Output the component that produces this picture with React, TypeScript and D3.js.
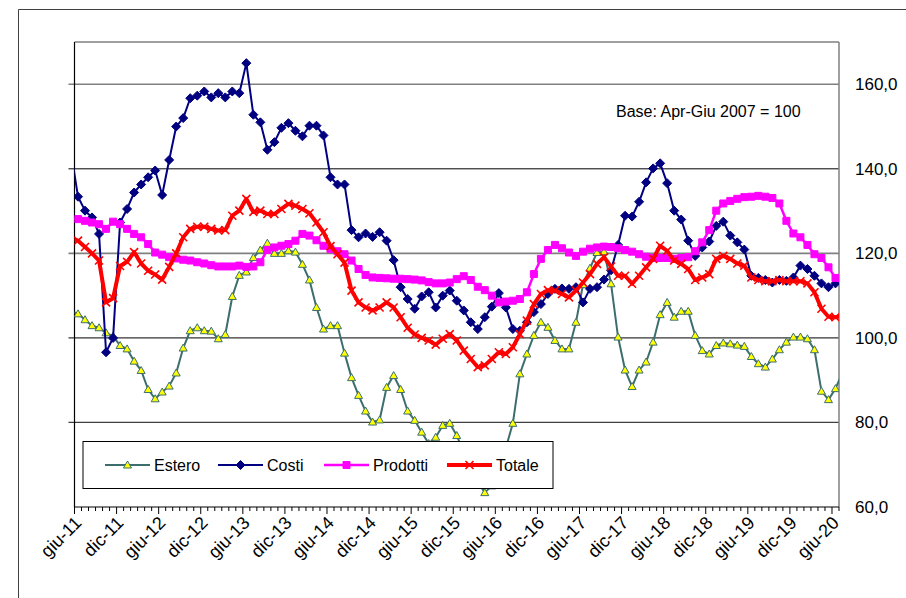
import React from "react";
import * as d3 from "d3";

// monthly values, first entry = mag-11 (partly outside the plot), last = lug-20
const estero = [
  106.3, 105.7, 104.3, 102.9, 102.4, 101.2, 100.4, 98.2, 97.4, 94.5, 92.3, 87.8,
  85.6, 87.2, 88.6, 91.7, 97.6, 101.7, 102.4, 101.7, 101.6, 99.8, 100.8, 109.8,
  114.8, 115.6, 119.0, 120.8, 122.4, 120.0, 120.0, 120.6, 120.3, 117.4, 113.7, 107.2,
  102.1, 102.9, 102.9, 96.4, 90.6, 86.4, 82.7, 80.1, 80.6, 88.3, 91.1, 87.8,
  82.7, 80.5, 77.7, 75.0, 76.5, 79.3, 79.8, 76.9, 73.0, 69.5, 66.0, 63.4,
  65.0, 69.0, 74.0, 79.8, 91.5, 96.2, 100.6, 103.7, 102.5, 99.4, 97.4, 97.4,
  103.7, 112.6, 116.5, 120.2, 120.4, 112.8, 100.2, 92.4, 88.5, 92.4, 94.3, 99.0,
  105.5, 108.4, 104.9, 106.3, 106.3, 100.6, 97.0, 96.2, 98.2, 98.8, 98.6, 98.3,
  98.0, 95.6, 93.9, 93.1, 95.0, 97.2, 99.0, 100.2, 100.2, 99.8, 97.2, 87.4,
  85.4, 88.0, 91.8,
];

const costi = [
  144.0, 133.4, 130.1, 128.5, 124.6, 96.6, 100.0, 127.3, 130.5, 134.4, 136.3, 138.0,
  139.6, 133.8, 142.1, 150.0, 152.0, 156.7, 157.3, 158.3, 156.9, 157.9, 156.9, 158.3,
  157.9, 165.0, 152.8, 151.0, 144.5, 146.3, 149.7, 150.8, 149.0, 147.7, 150.2, 150.2,
  147.9, 138.0, 136.3, 136.3, 125.5, 123.8, 124.7, 123.9, 125.0, 123.0, 118.4, 112.0,
  109.2, 106.9, 109.8, 110.8, 107.2, 110.0, 111.2, 108.8, 106.5, 103.7, 102.1, 104.9,
  107.4, 110.6, 107.2, 102.1, 101.7, 103.7, 106.1, 108.0, 110.4, 111.6, 111.7, 111.6,
  112.0, 108.4, 111.6, 112.0, 113.8, 116.0, 122.0, 128.9, 128.7, 132.2, 136.8, 140.1,
  141.3, 136.6, 130.1, 128.0, 123.0, 119.4, 121.4, 122.8, 126.5, 127.5, 124.2, 122.6,
  120.9, 114.7, 114.2, 113.7, 113.1, 113.7, 113.5, 114.3, 117.1, 116.3, 114.7, 112.9,
  112.0, 112.9, 113.2,
];

const prodotti = [
  128.3, 128.1, 127.7, 127.3, 126.9, 125.8, 127.5, 126.9, 125.8, 124.6, 123.8, 122.2,
  120.2, 119.7, 119.1, 118.8, 118.5, 118.3, 117.9, 117.6, 117.2, 116.9, 116.9, 116.9,
  117.1, 116.8, 116.9, 117.9, 120.8, 121.4, 121.8, 122.2, 123.0, 124.6, 124.2, 123.1,
  121.8, 121.0, 120.5, 119.8, 118.3, 116.3, 114.9, 114.3, 114.2, 114.1, 114.0, 114.0,
  113.9, 113.8, 113.6, 113.2, 112.9, 112.9, 113.1, 113.9, 114.6, 113.7, 112.1, 111.3,
  110.0, 108.4, 108.6, 108.8, 109.2, 110.8, 115.1, 118.7, 120.8, 122.0, 121.2, 120.2,
  119.4, 120.4, 121.1, 121.4, 121.6, 121.5, 121.2, 120.8, 120.4, 119.8, 119.2, 118.9,
  118.9, 118.9, 118.7, 118.9, 119.1, 120.5, 122.6, 125.5, 130.1, 131.8, 132.4, 132.9,
  133.3, 133.4, 133.6, 133.4, 133.1, 131.8, 127.7, 124.7, 123.8, 122.0, 119.8, 118.9,
  116.7, 114.2, 112.8,
];

const totale = [
  123.6, 123.0, 121.5, 120.0, 118.3, 108.4, 109.4, 117.0, 118.0, 120.3, 117.6, 115.9,
  115.0, 113.8, 116.8, 120.0, 123.8, 125.8, 126.3, 126.3, 125.8, 125.4, 125.5, 128.9,
  130.1, 132.9, 129.8, 130.1, 129.3, 129.3, 130.5, 131.7, 131.3, 130.5, 129.5, 127.3,
  125.0, 121.7, 119.8, 117.8, 111.2, 108.4, 107.2, 106.5, 107.2, 108.4, 107.2, 104.9,
  102.4, 100.8, 100.0, 99.4, 98.4, 99.8, 100.9, 99.4, 97.0, 95.0, 93.1, 93.5,
  95.0, 96.6, 96.2, 97.8, 100.9, 104.1, 108.0, 110.4, 111.3, 111.2, 110.4, 109.6,
  111.2, 113.1, 115.1, 117.5, 119.1, 116.9, 114.7, 114.7, 112.8, 114.7, 116.7, 118.7,
  121.8, 120.6, 118.3, 117.5, 116.3, 113.7, 114.3, 115.1, 118.7, 119.4, 118.7, 117.6,
  117.1, 114.3, 113.7, 113.4, 113.4, 113.7, 113.4, 113.4, 113.4, 112.9, 110.8, 106.9,
  105.0, 104.9, 105.3,
];

const tickLabels = [
  "giu-11", "dic-11", "giu-12", "dic-12", "giu-13", "dic-13", "giu-14", "dic-14",
  "giu-15", "dic-15", "giu-16", "dic-16", "giu-17", "dic-17", "giu-18", "dic-18",
  "giu-19", "dic-19", "giu-20",
];
const yTicks = [60, 80, 100, 120, 140, 160];
const note = "Base: Apr-Giu 2007 = 100";

const FONT = "'Liberation Sans', Arial, sans-serif";
const left = 74.5, right = 839, top = 42, bottom = 507;

const x = d3.scaleLinear().domain([0, 109]).range([left, right]);
const y = d3.scaleLinear().domain([60, 170]).range([bottom, top]);
// data point i sits in the middle of its month, first value is the month before giu-11
const px = (i: number) => x(i - 0.5);

const fmt = d3.formatLocale({ decimal: ",", thousands: ".", grouping: [3], currency: ["", "€"] }).format(".1f");

const diamond = "M0,-4.5L4.5,0L0,4.5L-4.5,0Z";
const square = "M-3.5,-3.5H3.5V3.5H-3.5Z";
const triangle = "M0,-4L4,3L-4,3Z";
const cross = "M-4,-4L4,4M-4,4L4,-4";

const series = [
  { name: "Estero", data: estero, color: "#3d6e6e", width: 2, marker: triangle, mFill: "#ffff00", mStroke: "#3d6e6e", mWidth: 1 },
  { name: "Costi", data: costi, color: "#000080", width: 2, marker: diamond, mFill: "#000080", mStroke: "#000080", mWidth: 1 },
  { name: "Prodotti", data: prodotti, color: "#ff00ff", width: 2.5, marker: square, mFill: "#ff00ff", mStroke: "#ff00ff", mWidth: 1 },
  { name: "Totale", data: totale, color: "#ff0000", width: 4, marker: cross, mFill: "none", mStroke: "#ff0000", mWidth: 1.6 },
];

const legendX = [105, 218, 324, 447];

export default function App() {
  const line = d3.line<number>().x((_, i) => px(i)).y((d) => y(d));
  const grid: Record<number, [string, number]> = {
    80: ["#404040", 1.2], 100: ["#000", 1], 120: ["#808080", 1.6], 140: ["#000", 1], 160: ["#808080", 1.6],
  };
  const inside = (i: number) => px(i) >= left && px(i) <= right;

  return (
    <svg width={906} height={598} style={{ position: "absolute", left: 0, top: 0, background: "#fff" }} fontFamily={FONT}>
      <defs>
        <clipPath id="plot">
          <rect x={left} y={top} width={right - left} height={bottom - top} />
        </clipPath>
      </defs>
      {/* outer chart border (cut by the picture on right and bottom) */}
      <path d="M18.5,598V9.5H906" fill="none" stroke="#404040" strokeWidth={1} />

      {/* grid */}
      {yTicks.filter((t) => t > 60).map((t) => (
        <line key={t} x1={left - 6} x2={right} y1={y(t)} y2={y(t)} stroke={grid[t][0]} strokeWidth={grid[t][1]} />
      ))}
      <line x1={left} x2={right} y1={top} y2={top} stroke="#808080" strokeWidth={1.5} />
      <line x1={right} x2={right} y1={top} y2={bottom} stroke="#808080" strokeWidth={1.5} />
      <line x1={left} x2={left} y1={top} y2={bottom} stroke="#000" strokeWidth={1.2} />

      {/* y labels on the right */}
      {yTicks.map((t) => (
        <text key={t} x={855} y={y(t)} dy="0.35em" fontSize={17} fill="#000">{fmt(t)}</text>
      ))}

      {/* series */}
      <g clipPath="url(#plot)">
        {series.map((s) => (
          <g key={s.name}>
            <path d={line(s.data) || ""} fill="none" stroke={s.color} strokeWidth={s.width} strokeLinejoin="round" />
            {s.data.map((d, i) => inside(i) ? (
              <path key={i} d={s.marker} transform={`translate(${px(i)},${y(d)})`}
                fill={s.mFill} stroke={s.mStroke} strokeWidth={s.mWidth} />
            ) : null)}
          </g>
        ))}
      </g>

      <text x={616} y={117} fontSize={16} fill="#000">{note}</text>

      {/* legend */}
      <rect x={83} y={441.5} width={470} height={47} fill="#fff" stroke="#000" strokeWidth={1} />
      {series.map((s, i) => (
        <g key={s.name} transform={`translate(${legendX[i]},465)`}>
          <line x1={0} x2={45} y1={0} y2={0} stroke={s.color} strokeWidth={s.width} />
          <path d={s.marker} transform="translate(22.5,0)" fill={s.mFill} stroke={s.mStroke} strokeWidth={s.mWidth} />
          <text x={49} y={0} dy="0.35em" fontSize={16} fill="#000">{s.name}</text>
        </g>
      ))}

      {/* x axis */}
      <line x1={left} x2={right} y1={bottom} y2={bottom} stroke="#000" strokeWidth={1.2} />
      {d3.range(0, 110).map((m) => (
        <line key={m} x1={x(m)} x2={x(m)} y1={bottom} y2={bottom + (m % 6 === 0 ? 7 : 4)} stroke="#000" strokeWidth={1} />
      ))}
      {tickLabels.map((lab, j) => (
        <text key={lab} transform={`translate(${x(j * 6) + 8},${bottom + 17}) rotate(-45)`} textAnchor="end" fontSize={18} fill="#000">{lab}</text>
      ))}
    </svg>
  );
}
